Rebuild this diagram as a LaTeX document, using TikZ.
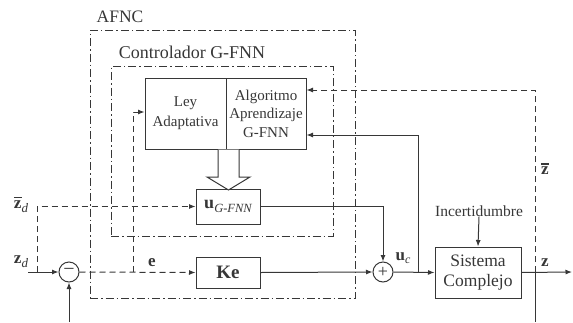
\documentclass[tikz,border=0pt]{standalone}
\usepackage{fontspec}
\setmainfont{Liberation Serif}
\usetikzlibrary{arrows.meta}
\definecolor{lc}{RGB}{55,55,55}
\newcommand{\mybarz}{{\bfseries\setbox0\hbox{z}\rlap{\raisebox{\dimexpr\ht0+2.5pt\relax}{\rule{\wd0}{1.3pt}}}z}}
\begin{document}
\begin{tikzpicture}[x=1pt,y=-1pt,
  ln/.style={draw=lc, line width=1pt},
  arr/.style={ln, -{Latex[length=6.5pt,width=5pt]}},
  dsh/.style={dash pattern=on 6pt off 4pt},
  ddbox/.style={draw=lc, line width=1pt, dash pattern=on 8pt off 3pt on 1.5pt off 3pt, inner sep=0pt},
  blk/.style={draw=lc, line width=1pt, fill=white, inner sep=0pt, align=center, text=lc},
  circ/.style={draw=lc, line width=1pt, circle, fill=white, minimum size=20pt, inner sep=0pt, text=lc},
  lbl/.style={text=lc, inner sep=0pt}
]
\useasboundingbox (0,0) rectangle (573,322);

% dash-dot frames
\node[ddbox, minimum width=265pt, minimum height=268pt] (afnc) at (222.5,164) {};
\node[ddbox, minimum width=222pt, minimum height=170pt] (ctrl) at (222,151) {};
\node[lbl, font=\fontsize{17.5}{20}\selectfont] (afnclbl) at (120,17) {AFNC};
\node[lbl, font=\fontsize{18}{20}\selectfont] (ctrllbl) at (192,52) {Controlador G-FNN};

% blocks
\node[blk, minimum width=81pt, minimum height=71pt, font=\fontsize{15}{20}\selectfont] (ley) at (185.5,113.5) {Ley\\Adaptativa};
\node[blk, minimum width=80pt, minimum height=71pt, font=\fontsize{15}{18.5}\selectfont] (alg) at (266,113.5) {Algoritmo\\Aprendizaje\\G-FNN};
\node[blk, minimum width=64pt, minimum height=35pt] (ubox) at (228,206.5)
  {{\fontsize{18}{20}\selectfont\bfseries u}\raisebox{-4pt}{\fontsize{12.5}{14}\selectfont\itshape G-FNN}};
\node[blk, minimum width=64pt, minimum height=31pt, font=\fontsize{19}{20}\selectfont\bfseries] (ke) at (228,272.5) {Ke};
\node[blk, minimum width=86pt, minimum height=51pt, font=\fontsize{17.5}{20}\selectfont] (sis) at (478,272.5) {Sistema\\Complejo};
\node[circ, font=\fontsize{20}{20}\selectfont] (minus) at (69,272) {−};
\node[circ, font=\fontsize{18}{18}\selectfont] (plus) at (383,272) {+};
\node[lbl, font=\fontsize{15.5}{18}\selectfont] (inc) at (479,211) {Incertidumbre};

% hollow arrow
\draw[draw=lc, line width=1pt, fill=white] (218,149.5) -- (218,177) -- (207,177) -- (228.5,190) -- (250,177) -- (239,177) -- (239,149.5);

% labels
\node[lbl, font=\fontsize{17}{20}\selectfont] (zdbarlbl) at (21,205)
  {\mybarz\raisebox{-4pt}{\fontsize{13}{14}\selectfont\itshape d}};
\node[lbl, font=\fontsize{17}{20}\selectfont] (zdlbl) at (21,262)
  {\bfseries z\raisebox{-4pt}{\fontsize{13}{14}\selectfont\mdseries\itshape d}};
\node[lbl, font=\fontsize{17}{20}\selectfont\bfseries] (elbl) at (152,263) {e};
\node[lbl, font=\fontsize{17}{20}\selectfont] (uclbl) at (403,258)
  {\bfseries u\raisebox{-3pt}{\fontsize{12}{14}\selectfont\mdseries\itshape c}};
\node[lbl, font=\fontsize{17}{20}\selectfont\bfseries] (zlbl) at (545,263) {z};
\node[lbl, font=\fontsize{17}{20}\selectfont] (zbarlbl) at (545,169) {\mybarz};

% coordinates
\coordinate (zdin) at (28,272);
\coordinate (zdj) at (37,272);
\coordinate (ej) at (133,272);
\coordinate (fbm) at (69,322);
\coordinate (ucj) at (418,272);
\coordinate (zj) at (535,272);
\coordinate (zout) at (572,272);
\coordinate (zbot) at (535,322);

% connectors
\draw[arr] (zdin) -- (minus.west);
\draw[arr, dsh] (zdj) |- (ubox.west);
\draw[arr, dsh] (minus.east) -- (ke.west);
\draw[arr, dsh] (ej) |- ([yshift=1.5pt]ley.west);
\draw[arr] (fbm) -- (minus.south);
\draw[arr] (ke.east) -- (plus.west);
\draw[arr] (ubox.east) -| (plus.north);
\draw[arr] (plus.east) -- (sis.west);
\draw[arr] (ucj) |- ([yshift=-21.5pt]alg.east);
\draw[arr] (inc.south) -- (sis.north);
\draw[arr] (sis.east) -- (zout);
\draw[ln] (zj) -- (zbot);
\draw[arr, dsh] (zj) |- ([yshift=23.5pt]alg.east);
\end{tikzpicture}
\end{document}
